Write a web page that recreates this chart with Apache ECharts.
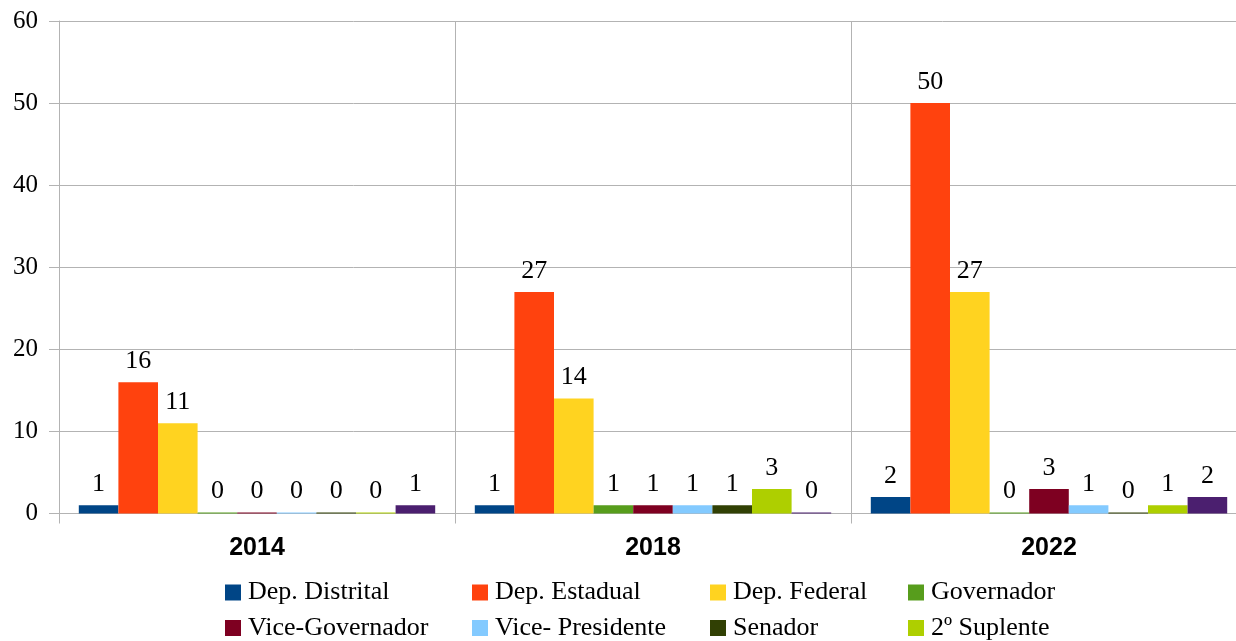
<!DOCTYPE html>
<html>
<head>
<meta charset="utf-8">
<script src="https://cdn.jsdelivr.net/npm/echarts@6/dist/echarts.min.js"></script>
<style>html,body{margin:0;padding:0;background:#fff}#c{width:1236px;height:641px}</style>
</head>
<body>
<div id="c"></div>
<script>
const categories = ['2014', '2018', '2022'];
const seriesNames = ['Dep. Distrital', 'Dep. Estadual', 'Dep. Federal', 'Governador', 'Vice-Governador', 'Vice- Presidente', 'Senador', '2º Suplente', '1º Suplente'];
const depDistrital = [1, 1, 2];
const depEstadual = [16, 27, 50];
const depFederal = [11, 14, 27];
const governador = [0, 1, 0];
const viceGovernador = [0, 1, 3];
const vicePresidente = [0, 1, 1];
const senador = [0, 1, 0];
const suplente2 = [0, 3, 1];
const suplente1 = [1, 0, 2];
const colors = ['#004586', '#ff420e', '#ffd320', '#579d1c', '#7e0021', '#83caff', '#314004', '#aecf00', '#4b1f6f'];
const yTicks = [0, 10, 20, 30, 40, 50, 60];

const allValues = [depDistrital, depEstadual, depFederal, governador, viceGovernador, vicePresidente, senador, suplente2, suplente1];
const gray = '#b3b3b3';
const serif = '"Liberation Serif", "DejaVu Serif", serif';
const sans = '"Liberation Sans", Arial, sans-serif';

const series = seriesNames.map((name, i) => ({
  name: name,
  type: 'bar',
  data: allValues[i],
  barGap: '0%',
  barCategoryGap: '10%',
  barMinHeight: 1,
  itemStyle: { color: colors[i] },
  label: {
    show: true, position: 'top', distance: 8,
    fontFamily: serif, fontSize: 26, color: '#000'
  }
}));

const colLeft = [225, 472, 710, 908];
const rowTop = [579.5, 615, 650.5];
const legends = seriesNames.map((name, i) => ({
  orient: 'horizontal', left: colLeft[i % 4], top: rowTop[Math.floor(i / 4)], padding: 0,
  itemWidth: 16, itemHeight: 16, icon: 'rect',
  data: [name],
  selectedMode: false,
  textStyle: { fontFamily: serif, fontSize: 26, lineHeight: 25, color: '#000', padding: [0, 0, 0, 2] }
}));

const chart = echarts.init(document.getElementById('c'));
chart.setOption({
  animation: false,
  color: colors,
  grid: { left: 59, width: 1188, top: 21, bottom: 127.5, containLabel: false, outerBoundsMode: 'none' },
  legend: legends,
  xAxis: {
    type: 'category',
    data: categories,
    axisLine: { show: true, lineStyle: { color: gray, width: 1 } },
    axisTick: { show: true, length: 10, lineStyle: { color: gray } },
    splitLine: { show: true, lineStyle: { color: gray, width: 1 } },
    axisLabel: { fontFamily: sans, fontWeight: 'bold', fontSize: 25, color: '#000', margin: 22 }
  },
  yAxis: {
    type: 'value',
    min: yTicks[0], max: yTicks[yTicks.length - 1], interval: 10,
    axisLine: { show: true, lineStyle: { color: gray, width: 1 } },
    axisTick: { show: true, length: 10, lineStyle: { color: gray } },
    splitLine: { show: true, lineStyle: { color: gray, width: 1 } },
    axisLabel: { fontFamily: serif, fontSize: 25, color: '#000', margin: 21 }
  },
  series: series
});
</script>
</body>
</html>
